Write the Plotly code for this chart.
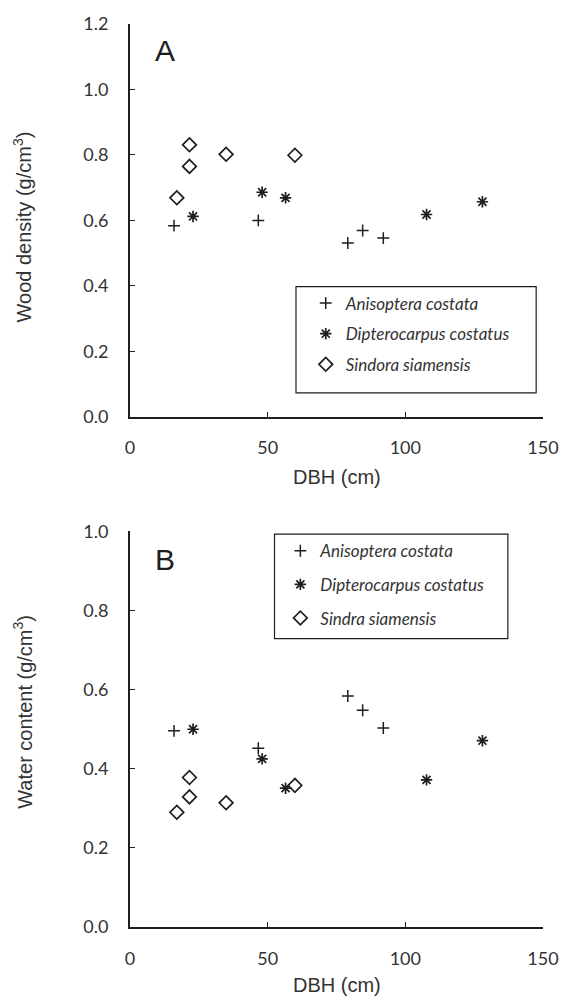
import plotly.graph_objects as go

# ---- data ----
species = ["Anisoptera costata", "Dipterocarpus costatus", "Sindora siamensis"]
species_b = ["Anisoptera costata", "Dipterocarpus costatus", "Sindra siamensis"]

dbh_ac = [16.0, 46.6, 79.1, 84.5, 92.0]
wd_ac = [0.584, 0.600, 0.531, 0.569, 0.546]
wc_ac = [0.496, 0.452, 0.584, 0.548, 0.503]

dbh_dc = [22.9, 48.0, 56.5, 107.7, 128.0]
wd_dc = [0.612, 0.686, 0.669, 0.618, 0.657]
wc_dc = [0.500, 0.425, 0.351, 0.372, 0.471]

dbh_ss = [17.0, 21.6, 21.6, 34.9, 59.9]
wd_ss = [0.669, 0.831, 0.765, 0.802, 0.799]
wc_ss = [0.290, 0.378, 0.329, 0.314, 0.358]

x_ticks = [0, 50, 100, 150]
y_ticks_a = [0.0, 0.2, 0.4, 0.6, 0.8, 1.0, 1.2]
y_ticks_b = [0.0, 0.2, 0.4, 0.6, 0.8, 1.0]

INK = "#1e1e1e"
TXT = "#333333"
TICKFONT = dict(family="Lato, Open Sans, sans-serif", size=18, color=TXT)
TITLEFONT = dict(family="Liberation Sans, Arial, sans-serif", size=20, color=TXT)
LEGFONT = dict(family="Lato, Open Sans, sans-serif", size=17, color=TXT)

sym = [
    dict(symbol="cross-thin-open", size=8.5, line=dict(width=1.5, color=INK), color=INK),
    dict(symbol="asterisk-open", size=9.5, line=dict(width=1.7, color=INK), color=INK),
    dict(symbol="diamond-open", size=10.5, line=dict(width=1.7, color=INK), color=INK),
]

fig = go.Figure()

top = [(dbh_ac, wd_ac), (dbh_dc, wd_dc), (dbh_ss, wd_ss)]
bot = [(dbh_ac, wc_ac), (dbh_dc, wc_dc), (dbh_ss, wc_ss)]

for i, (xs, ys) in enumerate(top):
    fig.add_trace(go.Scatter(x=xs, y=ys, mode="markers", marker=sym[i],
                             name="<i>" + species[i] + "</i>",
                             xaxis="x", yaxis="y", legend="legend",
                             legendgroup="a%d" % i))
for i, (xs, ys) in enumerate(bot):
    fig.add_trace(go.Scatter(x=xs, y=ys, mode="markers", marker=sym[i],
                             name="<i>" + species_b[i] + "</i>",
                             xaxis="x2", yaxis="y2", legend="legend2",
                             legendgroup="b%d" % i))

axis_common = dict(showline=True, linecolor=INK, linewidth=2, ticks="inside",
                   ticklen=5, tickwidth=1, tickcolor=INK, showgrid=False,
                   zeroline=False, tickfont=TICKFONT, mirror=False)


def px_x(p):
    return (p - 130) / 423


def px_y(p):
    return (927 - p) / 908


def ann(text, x, y, font, angle=0):
    return dict(text=text, x=x, y=y, xref="paper", yref="paper", xanchor="center",
                yanchor="middle", showarrow=False, textangle=angle, font=font)


fig.update_layout(
    width=571, height=997,
    margin=dict(l=130, r=18, t=19, b=70),
    paper_bgcolor="white", plot_bgcolor="white",
    showlegend=True,
    xaxis=dict(domain=[0, 1], range=[0, 150], tickvals=x_ticks, anchor="y",
               ticklabelstandoff=14, **axis_common),
    yaxis=dict(domain=[0.565, 1], range=[0, 1.2], tickvals=y_ticks_a,
               tickformat=".1f", anchor="x", ticklabelstandoff=16, **axis_common),
    xaxis2=dict(domain=[0, 1], range=[0, 150], tickvals=x_ticks, anchor="y2",
                ticklabelstandoff=14, **axis_common),
    yaxis2=dict(domain=[0, 0.438], range=[0, 1.0], tickvals=y_ticks_b,
                tickformat=".1f", anchor="x2", ticklabelstandoff=16, **axis_common),
    legend=dict(x=px_x(310), y=px_y(282), xanchor="left", yanchor="top",
                bgcolor="rgba(0,0,0,0)", borderwidth=0, font=LEGFONT,
                tracegroupgap=5.5, itemclick=False, itemdoubleclick=False),
    legend2=dict(x=px_x(284), y=px_y(531), xanchor="left", yanchor="top",
                 bgcolor="rgba(0,0,0,0)", borderwidth=0, font=LEGFONT,
                 tracegroupgap=8.5, itemclick=False, itemdoubleclick=False),
    shapes=[
        dict(type="rect", xref="paper", yref="paper",
             x0=px_x(300), x1=px_x(546), y0=px_y(390), y1=px_y(283),
             line=dict(color=INK, width=1.2), fillcolor="rgba(0,0,0,0)"),
        dict(type="rect", xref="paper", yref="paper",
             x0=px_x(278), x1=px_x(517), y0=px_y(637), y1=px_y(532),
             line=dict(color=INK, width=1.2), fillcolor="rgba(0,0,0,0)"),
    ],
    annotations=[
        ann("A", px_x(166), px_y(46), dict(family="Liberation Sans, Arial, sans-serif", size=30, color=INK)),
        ann("B", px_x(166), px_y(557), dict(family="Liberation Sans, Arial, sans-serif", size=30, color=INK)),
        ann("Wood density (g/cm<sup>3</sup>)", px_x(20), px_y(223), TITLEFONT, -90),
        ann("Water content (g/cm<sup>3</sup>)", px_x(20), px_y(711), TITLEFONT, -90),
        ann("DBH (cm)", 0.5, px_y(475), TITLEFONT),
        ann("DBH (cm)", 0.5, px_y(985), TITLEFONT),
    ],
)

fig.write_html("out.html")
